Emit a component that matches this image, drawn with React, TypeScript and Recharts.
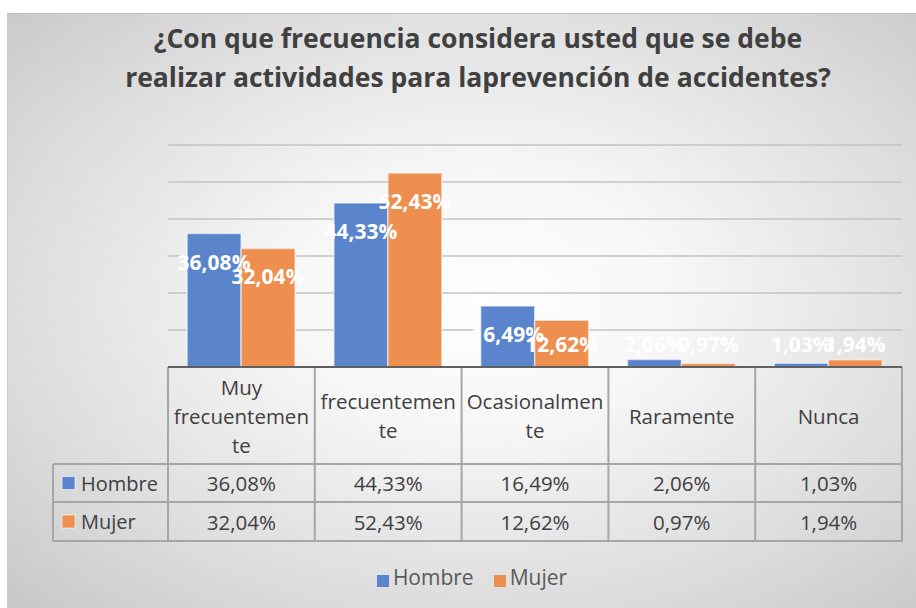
import { Bar, BarChart, CartesianGrid, LabelList, Legend, XAxis, YAxis } from "recharts";

const categories = ["Muy frecuentemente", "frecuentemente", "Ocasionalmente", "Raramente", "Nunca"];
const headerLines = [
  ["Muy", "frecuentemen", "te"],
  ["frecuentemen", "te"],
  ["Ocasionalmen", "te"],
  ["Raramente"],
  ["Nunca"],
];
const hombre = [36.08, 44.33, 16.49, 2.06, 1.03];
const mujer = [32.04, 52.43, 12.62, 0.97, 1.94];
const seriesNames = ["Hombre", "Mujer"];
const seriesColors = ["#5a84cc", "#ee8e4f"];
const yTicks = [0, 10, 20, 30, 40, 50, 60];
const titleLines = [
  "¿Con que frecuencia considera usted que se debe",
  "realizar actividades para laprevención de accidentes?",
];

const data = categories.map((name, i) => ({ name, Hombre: hombre[i], Mujer: mujer[i] }));

const FONT = "'Open Sans', 'Noto Sans', sans-serif";
const TEXT = "#404040";

// table layout (px)
const TABLE_LEFT = 53;
const PLOT_LEFT = 168;
const PLOT_RIGHT = 902;
const TABLE_TOP = 367;
const HEADER_BOTTOM = 464;
const ROW1_BOTTOM = 502;
const ROW2_BOTTOM = 541;
const LEGEND_H = 28;

const fmt = (v: number) => v.toFixed(2).replace(".", ",") + "%";

function ColumnTick(props: any) {
  const { x, index } = props;
  const lines = headerLines[index] || [];
  const mid = (TABLE_TOP + HEADER_BOTTOM) / 2;
  const start = mid - ((lines.length - 1) * 29) / 2;
  return (
    <g fontFamily={FONT} fill={TEXT} textAnchor="middle">
      {lines.map((l, i) => (
        <text key={i} x={x} y={start + i * 29} dominantBaseline="central" fontSize={20.5}>
          {l}
        </text>
      ))}
      <text x={x} y={(HEADER_BOTTOM + ROW1_BOTTOM) / 2} dominantBaseline="central" fontSize={20.5}>
        {fmt(hombre[index])}
      </text>
      <text x={x} y={(ROW1_BOTTOM + ROW2_BOTTOM) / 2} dominantBaseline="central" fontSize={20.5}>
        {fmt(mujer[index])}
      </text>
    </g>
  );
}

function BarLabel(props: any) {
  const { x, y, width, height, value } = props;
  const base = y + height;
  const cy = Math.min(y + 28, base - 23);
  return (
    <text
      x={x + width / 2}
      y={cy}
      textAnchor="middle"
      dominantBaseline="central"
      fill="#ffffff"
      fontFamily={FONT}
      fontWeight={700}
      fontSize={21}
    >
      {fmt(value)}
    </text>
  );
}

export default function App() {
  const colW = (PLOT_RIGHT - PLOT_LEFT) / categories.length;
  return (
    <div style={{ position: "relative", width: 916, height: 608, background: "#ffffff", overflow: "hidden" }}>
      <style>{"body{margin:0}"}</style>
      <div
        style={{
          position: "absolute",
          left: 7,
          top: 13,
          width: 909,
          height: 594,
          borderTop: "1px solid #c2c2c2",
          borderLeft: "1px solid #c8c8c8",
          background:
            "radial-gradient(ellipse 75% 75% at 52% 48%, #ffffff 0%, #f6f6f6 30%, #dcdcdc 70%, #c6c6c6 100%)",
        }}
      />
      <svg width={916} height={608} style={{ position: "absolute", left: 0, top: 0 }}>
        {titleLines.map((t, i) => (
          <text
            key={i}
            x={478}
            y={48 + i * 39}
            textAnchor="middle"
            fontFamily={FONT}
            fontWeight={700}
            fontSize={26.5}
            fill={TEXT}
          >
            {t}
          </text>
        ))}
        <g stroke="#a6a6a6" strokeWidth={2} fill="none">
          <line x1={TABLE_LEFT} y1={HEADER_BOTTOM} x2={PLOT_RIGHT} y2={HEADER_BOTTOM} />
          <line x1={TABLE_LEFT} y1={ROW1_BOTTOM} x2={PLOT_RIGHT} y2={ROW1_BOTTOM} />
          <line x1={TABLE_LEFT} y1={ROW2_BOTTOM} x2={PLOT_RIGHT} y2={ROW2_BOTTOM} />
          <line x1={TABLE_LEFT} y1={HEADER_BOTTOM} x2={TABLE_LEFT} y2={ROW2_BOTTOM} />
          {categories.map((c, i) => (
            <line key={c} x1={PLOT_LEFT + i * colW} y1={TABLE_TOP} x2={PLOT_LEFT + i * colW} y2={ROW2_BOTTOM} />
          ))}
          <line x1={PLOT_RIGHT} y1={TABLE_TOP} x2={PLOT_RIGHT} y2={ROW2_BOTTOM} />
        </g>
        {seriesNames.map((s, i) => {
          const cy = i === 0 ? (HEADER_BOTTOM + ROW1_BOTTOM) / 2 : (ROW1_BOTTOM + ROW2_BOTTOM) / 2;
          return (
            <g key={s}>
              <rect x={62} y={cy - 6.5} width={13} height={13} fill={seriesColors[i]} stroke="#ffffff" strokeOpacity={0.6} />
              <text x={81} y={cy} dominantBaseline="central" fontFamily={FONT} fontSize={20} fill={TEXT}>
                {s}
              </text>
            </g>
          );
        })}
      </svg>
      <div style={{ position: "absolute", left: 0, top: 0 }}>
        <BarChart
          width={916}
          height={608}
          data={data}
          margin={{ top: 145, left: PLOT_LEFT, right: 916 - PLOT_RIGHT, bottom: 67 - LEGEND_H }}
          barCategoryGap="13%"
          barGap={0}
        >
          <CartesianGrid vertical={false} stroke="#c3c3c3" strokeWidth={1.5} />
          <YAxis hide domain={[0, 60]} ticks={yTicks} />
          <XAxis
            dataKey="name"
            height={174}
            tickLine={false}
            axisLine={{ stroke: "#606060", strokeWidth: 2 }}
            tick={<ColumnTick />}
            interval={0}
          />
          <Legend
            verticalAlign="bottom"
            iconType="square"
            iconSize={12}
            height={LEGEND_H}
            wrapperStyle={{ left: 24, width: 916, top: 563, bottom: "auto" }}
            formatter={(v: string) => (
              <span style={{ color: "#595959", fontFamily: FONT, fontSize: 21, marginRight: 10 }}>{v}</span>
            )}
          />
          {seriesNames.map((s, i) => (
            <Bar
              key={s}
              dataKey={s}
              fill={seriesColors[i]}
              stroke="#ffffff"
              strokeOpacity={0.55}
              strokeWidth={1.5}
              isAnimationActive={false}
            >
              <LabelList dataKey={s} content={<BarLabel />} />
            </Bar>
          ))}
        </BarChart>
      </div>
    </div>
  );
}
